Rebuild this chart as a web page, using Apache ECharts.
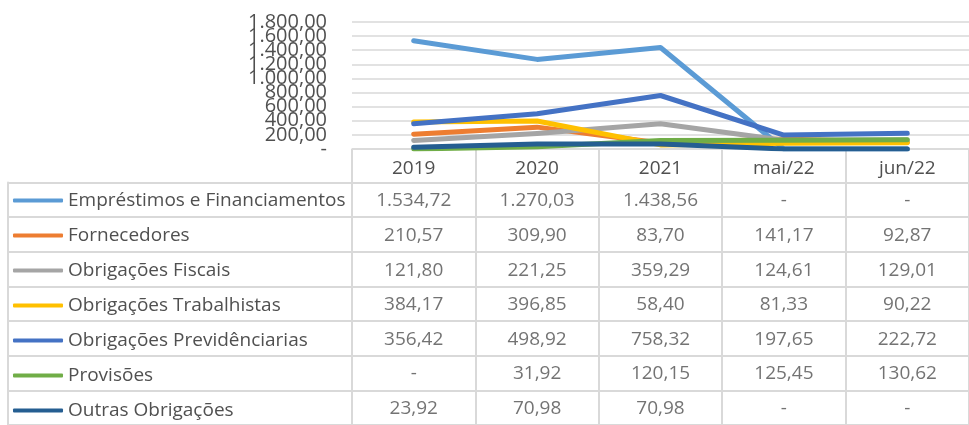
<!DOCTYPE html>
<html>
<head>
<meta charset="utf-8">
<script src="https://cdn.jsdelivr.net/npm/echarts@6/dist/echarts.min.js"></script>
<style>
  html, body { margin: 0; padding: 0; background: #fff; }
  #chart { width: 969px; height: 425px; }
</style>
</head>
<body>
<div id="chart"></div>
<script>
// categorias (colunas)
const categories = ['2019', '2020', '2021', 'mai/22', 'jun/22']
// "-" na tabela = 0
const emprestimos = [1534.72, 1270.03, 1438.56, 0, 0]
const fornecedores = [210.57, 309.90, 83.70, 141.17, 92.87]
const obrigFiscais = [121.80, 221.25, 359.29, 124.61, 129.01]
const obrigTrabalhistas = [384.17, 396.85, 58.40, 81.33, 90.22]
const obrigPrevidenciarias = [356.42, 498.92, 758.32, 197.65, 222.72]
const provisoes = [0, 31.92, 120.15, 125.45, 130.62]
const outrasObrig = [23.92, 70.98, 70.98, 0, 0]

const seriesNames = [
  'Empréstimos e Financiamentos',
  'Fornecedores',
  'Obrigações Fiscais',
  'Obrigações Trabalhistas',
  'Obrigações Previdênciarias',
  'Provisões',
  'Outras Obrigações'
]
const seriesData = [emprestimos, fornecedores, obrigFiscais, obrigTrabalhistas, obrigPrevidenciarias, provisoes, outrasObrig]
const colors = ['#5B9BD5', '#ED7D31', '#A5A5A5', '#FFC000', '#4472C4', '#70AD47', '#255E91']

const FONT = 'Open Sans'
const TXT = '#505050'
const GRID = '#d9d9d9'

// formato pt-BR: 1.534,72 ; zero vira "-"
function fmt(v) {
  if (!v) return '-'
  const parts = v.toFixed(2).split('.')
  const int = parts[0].replace(/\B(?=(\d{3})+(?!\d))/g, '.')
  return int + ',' + parts[1]
}

// células da tabela
const cells = []
seriesData.forEach((arr, r) => {
  arr.forEach((v, c) => cells.push([c, r, v]))
})

// os rótulos do eixo Y se sobrepõem (como no Excel); dois eixos iguais,
// um com os valores pares e outro com os ímpares, para nenhum ser ocultado
function yLabelAxis(odd, extra) {
  return Object.assign({
    gridIndex: 0,
    type: 'value',
    position: 'left',
    min: 0,
    max: 1800,
    interval: 200,
    axisLine: { show: false },
    axisTick: { show: false },
    axisLabel: {
      fontFamily: FONT,
      fontSize: 20,
      color: TXT,
      margin: 25,
      showMinLabel: true,
      showMaxLabel: true,
      formatter: v => ((Math.round(v / 200) % 2 === 1) === odd ? fmt(v) : '')
    }
  }, extra)
}

const chart = echarts.init(document.getElementById('chart'))
chart.setOption({
  animation: false,
  color: colors,
  textStyle: { fontFamily: FONT },
  legend: {
    data: seriesNames,
    orient: 'vertical',
    left: 13,
    top: 190.5,
    padding: 0,
    itemWidth: 50,
    itemHeight: 4,
    itemGap: 15,
    icon: 'roundRect',
    selectedMode: false,
    textStyle: { fontFamily: FONT, fontSize: 19, color: TXT, lineHeight: 20 }
  },
  grid: [
    // gráfico
    { left: 352, top: 22, width: 622, height: 127 },
    // tabela - coluna da legenda
    { left: 8, top: 182.5, width: 344, height: 245 },
    // tabela - valores
    { left: 352, top: 182.5, width: 622, height: 245 }
  ],
  xAxis: [
    {
      gridIndex: 0,
      type: 'category',
      data: categories,
      axisLine: { lineStyle: { color: GRID, width: 1.5 } },
      axisTick: { show: true, interval: 0, length: 34, lineStyle: { color: GRID, width: 2 } },
      axisLabel: { fontFamily: FONT, fontSize: 19, color: TXT, margin: 10 }
    },
    {
      gridIndex: 1,
      type: 'category',
      data: [''],
      axisLine: { show: false },
      axisTick: { show: false },
      axisLabel: { show: false }
    },
    {
      gridIndex: 2,
      type: 'category',
      data: categories,
      axisLine: { show: false },
      axisTick: { show: false },
      axisLabel: { show: false },
      splitLine: { show: true, interval: 0, lineStyle: { color: GRID, width: 2 } }
    }
  ],
  yAxis: [
    yLabelAxis(false, { splitLine: { lineStyle: { color: GRID, width: 1.5 } } }),
    {
      gridIndex: 1,
      type: 'category',
      inverse: true,
      data: seriesNames,
      axisLine: { show: true, lineStyle: { color: GRID, width: 2 } },
      axisTick: { show: false },
      axisLabel: { show: false },
      splitLine: { show: true, interval: 0, lineStyle: { color: GRID, width: 2 } }
    },
    {
      gridIndex: 2,
      type: 'category',
      inverse: true,
      data: seriesNames,
      axisLine: { show: true, lineStyle: { color: GRID, width: 2 } },
      axisTick: { show: false },
      axisLabel: { show: false },
      splitLine: { show: true, interval: 0, lineStyle: { color: GRID, width: 2 } }
    },
    yLabelAxis(true, { offset: 0, splitLine: { show: false } })
  ],
  series: seriesNames.map((name, i) => ({
    name: name,
    type: 'line',
    xAxisIndex: 0,
    yAxisIndex: 0,
    data: seriesData[i],
    showSymbol: false,
    symbol: 'none',
    lineStyle: { width: 5, color: colors[i], cap: 'round', join: 'round' }
  })).concat([{
    name: 'tabela',
    type: 'scatter',
    xAxisIndex: 2,
    yAxisIndex: 2,
    data: cells,
    symbolSize: 1,
    itemStyle: { color: 'transparent' },
    label: {
      show: true,
      position: 'inside',
      offset: [0, 1],
      fontFamily: FONT,
      fontSize: 19,
      color: TXT,
      formatter: p => fmt(p.value[2])
    }
  }])
})
</script>
</body>
</html>
